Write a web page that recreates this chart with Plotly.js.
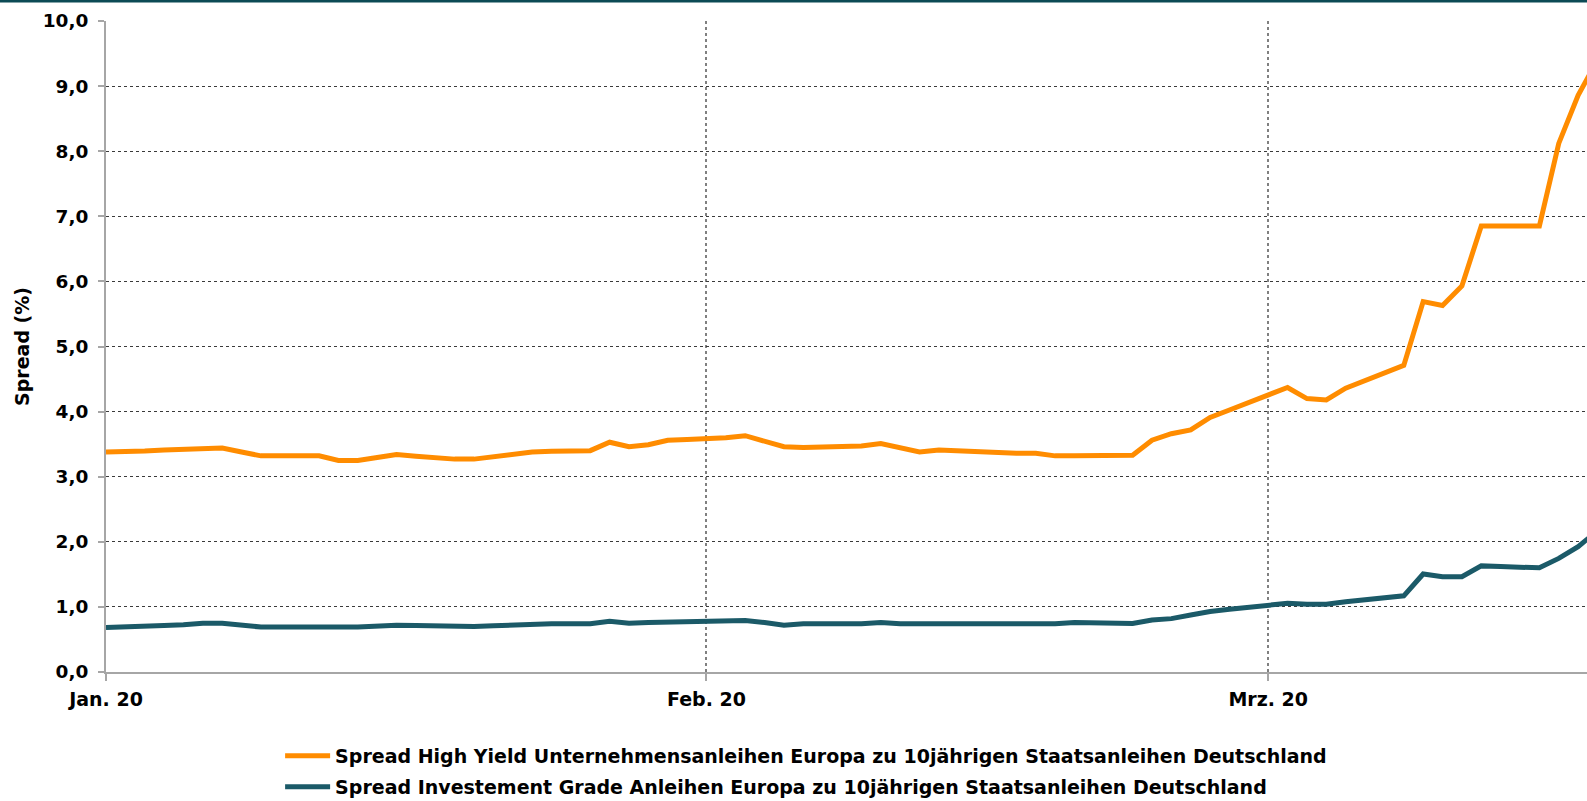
<!DOCTYPE html>
<html>
<head>
<meta charset="utf-8">
<script src="https://cdn.plot.ly/plotly-3.0.1.min.js"></script>
<style>html,body{margin:0;padding:0;background:#fff;}#chart{width:1587px;height:801px;}</style>
</head>
<body>
<div id="chart"></div>
<script>
// Daily series starting 1 Jan 2020 (one value per calendar day)
const startDate = '2020-01-01';
const highYield = [
  3.38, 3.38, 3.395, 3.41, 3.425, 3.44, 3.44, 3.38, 3.32, 3.32,
  3.32, 3.32, 3.25, 3.25, 3.295, 3.34, 3.315, 3.29, 3.27, 3.27,
  3.31, 3.345, 3.38, 3.39, 3.395, 3.40, 3.53, 3.46, 3.49, 3.56,
  3.57, 3.58, 3.60, 3.63, 3.545, 3.46, 3.45, 3.455, 3.46, 3.47,
  3.51, 3.445, 3.38, 3.41, 3.395, 3.38, 3.37, 3.36, 3.36, 3.32,
  3.32, 3.325, 3.33, 3.33, 3.56, 3.66, 3.72, 3.91, 4.025, 4.14,
  4.255, 4.37, 4.20, 4.18, 4.36, 4.48, 4.59, 4.71, 5.69, 5.63,
  5.93, 6.85, 6.85, 6.85, 6.85, 8.12, 8.86, 9.40
];
const investmentGrade = [
  0.685, 0.70, 0.71, 0.715, 0.725, 0.75, 0.75, 0.72, 0.69, 0.69,
  0.695, 0.70, 0.69, 0.69, 0.705, 0.72, 0.715, 0.705, 0.70, 0.70,
  0.71, 0.725, 0.74, 0.74, 0.74, 0.74, 0.78, 0.75, 0.76, 0.765,
  0.765, 0.765, 0.77, 0.79, 0.76, 0.72, 0.74, 0.74, 0.74, 0.74,
  0.76, 0.74, 0.74, 0.74, 0.74, 0.74, 0.74, 0.74, 0.74, 0.74,
  0.76, 0.755, 0.75, 0.745, 0.80, 0.82, 0.875, 0.93, 0.965, 1.00,
  1.03, 1.055, 1.04, 1.04, 1.08, 1.11, 1.14, 1.17, 1.505, 1.465,
  1.465, 1.63, 1.62, 1.61, 1.60, 1.745, 1.925, 2.17
];
const seriesNames = [
  'Spread High Yield Unternehmensanleihen Europa zu 10jährigen Staatsanleihen Deutschland',
  'Spread Investement Grade Anleihen Europa zu 10jährigen Staatsanleihen Deutschland'
];
const tickDates = ['2020-01-01', '2020-02-01', '2020-03-01'];
const tickLabels = ['Jan. 20', 'Feb. 20', 'Mrz. 20'];
const xRange = ['2020-01-01 00:00', '2020-03-17 11:00'];

function buildDates(start, n) {
  const out = [];
  const s = new Date(start + 'T00:00:00Z');
  for (let i = 0; i < n; i++) {
    const d = new Date(s.getTime() + i * 86400000);
    out.push(d.toISOString().slice(0, 10));
  }
  return out;
}
const dates = buildDates(startDate, highYield.length);

const FONT = 'DejaVu Sans, sans-serif';

const traces = [
  {x: dates, y: highYield, type: 'scatter', mode: 'lines', name: seriesNames[0],
   line: {color: '#ff8c00', width: 5}, legend: 'legend'},
  {x: dates, y: investmentGrade, type: 'scatter', mode: 'lines', name: seriesNames[1],
   line: {color: '#1b5a68', width: 5}, legend: 'legend2'}
];

const legendBase = {
  xref: 'container', yref: 'container',
  xanchor: 'left', yanchor: 'middle', orientation: 'h',
  font: {family: FONT, size: 19, color: '#000', weight: 'bold'},
  bgcolor: 'rgba(0,0,0,0)', itemwidth: 45
};

const layout = {
  width: 1587, height: 801,
  margin: {l: 106, r: 0, t: 21, b: 129},
  paper_bgcolor: '#fff', plot_bgcolor: '#fff',
  separators: ',.',
  font: {family: FONT, color: '#000'},
  showlegend: true,
  legend: Object.assign({}, legendBase, {x: 0.1765, y: 0.0562}),
  legend2: Object.assign({}, legendBase, {x: 0.1765, y: 0.0175}),
  xaxis: {
    type: 'date', range: xRange, automargin: false,
    tickmode: 'array', tickvals: tickDates, ticktext: tickLabels,
    showgrid: true, gridcolor: '#808080', gridwidth: 2, griddash: 'dot',
    showline: true, linecolor: '#a6a6a6', linewidth: 2,
    ticks: 'outside', ticklen: 7, tickwidth: 2, tickcolor: '#a6a6a6',
    ticklabelstandoff: 2,
    tickfont: {family: FONT, size: 19, color: '#000', weight: 'bold'},
    zeroline: false
  },
  yaxis: {
    range: [0, 10], dtick: 1, tick0: 0, tickformat: '.1f', automargin: false,
    showgrid: true, gridcolor: '#3a3a3a', gridwidth: 1, griddash: 'dot',
    showline: true, linecolor: '#a6a6a6', linewidth: 2,
    ticks: 'outside', ticklen: 6, tickwidth: 2, tickcolor: '#a6a6a6',
    ticklabelstandoff: 6,
    tickfont: {family: FONT, size: 18.5, color: '#000', weight: 'bold'},
    zeroline: false,
    title: {text: 'Spread (%)', standoff: 8,
            font: {family: FONT, size: 19, color: '#000', weight: 'bold'}}
  },
  shapes: [{
    type: 'rect', xref: 'paper', yref: 'paper', layer: 'above',
    x0: -0.08, x1: 1.01, y0: 1.0284, y1: 1.05,
    fillcolor: '#0c4a55', line: {width: 0}
  }]
};

Plotly.newPlot('chart', traces, layout, {displayModeBar: false, staticPlot: true});
</script>
</body>
</html>
